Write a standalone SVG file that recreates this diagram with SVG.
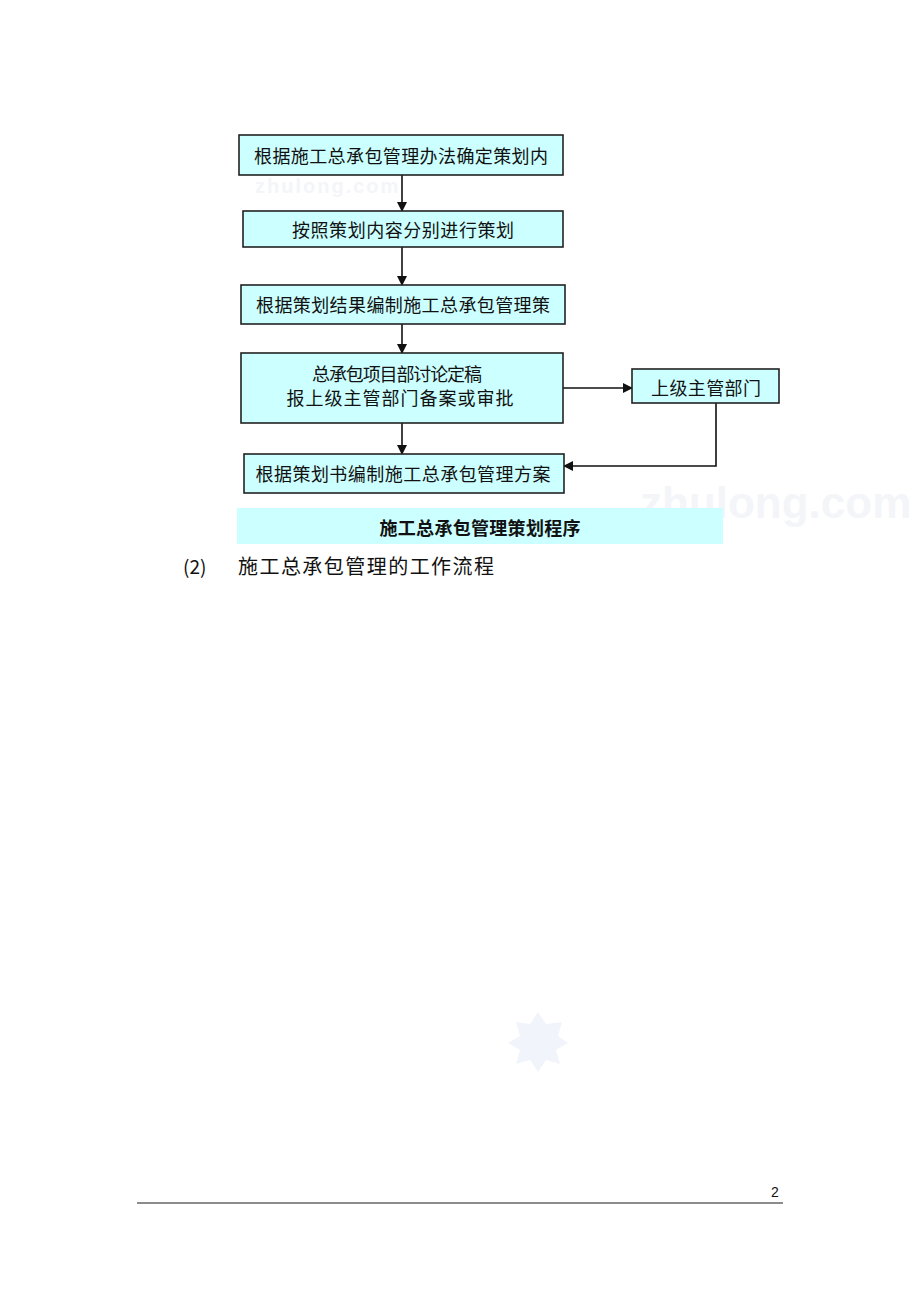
<svg xmlns="http://www.w3.org/2000/svg" width="920" height="1302" viewBox="0 0 920 1302">
<style>
.box{fill:#ccffff;stroke:#222;stroke-width:1.6}
.t{font-family:"Noto Sans CJK SC","Noto Sans",sans-serif;font-size:18px;fill:#111;text-anchor:middle;dominant-baseline:central}
.c{stroke:#111;stroke-width:1.6;fill:none}
.wm{font-family:"Liberation Sans",sans-serif;font-weight:bold;fill:#f4f5f9}
</style>
<defs>
<marker id="ah" viewBox="0 0 10 10" refX="9" refY="5" markerWidth="10" markerHeight="10" markerUnits="userSpaceOnUse" orient="auto">
<path d="M0,0 L10,5 L0,10 z" fill="#111"/>
</marker>
</defs>
<rect width="920" height="1302" fill="#fff"/>
<g id="watermarks">
<text class="wm" x="255" y="193" font-size="20" letter-spacing="2">zhulong.com</text>
<text class="wm" x="640" y="518" font-size="44">zhulong.com</text>
<polygon points="538,1012 546,1024 562,1022 558,1036 568,1043 556,1050 560,1064 546,1060 538,1072 530,1060 516,1064 520,1050 508,1043 520,1036 516,1022 530,1024" fill="#f1f5fb"/>
</g>
<g id="connectors">
<line class="c" x1="402" y1="175" x2="402" y2="211" marker-end="url(#ah)"/>
<line class="c" x1="402" y1="247" x2="402" y2="285" marker-end="url(#ah)"/>
<line class="c" x1="402" y1="324" x2="402" y2="353" marker-end="url(#ah)"/>
<line class="c" x1="402" y1="423" x2="402" y2="454" marker-end="url(#ah)"/>
<line class="c" x1="563" y1="388" x2="632" y2="388" marker-end="url(#ah)"/>
<polyline class="c" points="716,403 716,466 564,466" marker-end="url(#ah)"/>
</g>
<g id="n1">
<rect class="box" x="239" y="135" width="324" height="40"/>
<text class="t" x="401" y="155" textLength="294" lengthAdjust="spacing">根据施工总承包管理办法确定策划内</text>
</g>
<g id="n2">
<rect class="box" x="243" y="211" width="320" height="36"/>
<text class="t" x="403" y="229" textLength="222" lengthAdjust="spacing">按照策划内容分别进行策划</text>
</g>
<g id="n3">
<rect class="box" x="241" y="285" width="324" height="39"/>
<text class="t" x="403" y="304" textLength="294" lengthAdjust="spacing">根据策划结果编制施工总承包管理策</text>
</g>
<g id="n4">
<rect class="box" x="241" y="353" width="322" height="70"/>
<text class="t" x="397" y="373" textLength="170" lengthAdjust="spacing">总承包项目部讨论定稿</text>
<text class="t" x="400" y="397" textLength="227" lengthAdjust="spacing">报上级主管部门备案或审批</text>
</g>
<g id="n6">
<rect class="box" x="632" y="369" width="147" height="34"/>
<text class="t" x="706" y="387" textLength="110" lengthAdjust="spacing">上级主管部门</text>
</g>
<g id="n5">
<rect class="box" x="244" y="454" width="320" height="39"/>
<text class="t" x="403" y="473" textLength="295" lengthAdjust="spacing">根据策划书编制施工总承包管理方案</text>
</g>
<g id="caption">
<rect x="237" y="508" width="486" height="36" fill="#ccffff"/>
<text class="t" x="480" y="527" font-size="17" font-weight="bold" textLength="201" lengthAdjust="spacing">施工总承包管理策划程序</text>
</g>
<g id="heading">
<text x="183" y="565" font-family="Noto Sans CJK SC,Noto Sans,sans-serif" font-size="19" fill="#111" dominant-baseline="central">(2)</text>
<text x="238" y="565" font-family="Noto Sans CJK SC,Noto Sans,sans-serif" font-size="20" fill="#111" dominant-baseline="central" textLength="256" lengthAdjust="spacing">施工总承包管理的工作流程</text>
</g>
<g id="footer">
<text x="775" y="1192" font-family="Liberation Sans,sans-serif" font-size="14" fill="#111" text-anchor="middle" dominant-baseline="central">2</text>
<line x1="137" y1="1203" x2="783" y2="1203" stroke="#666" stroke-width="1.5"/>
</g>
</svg>
